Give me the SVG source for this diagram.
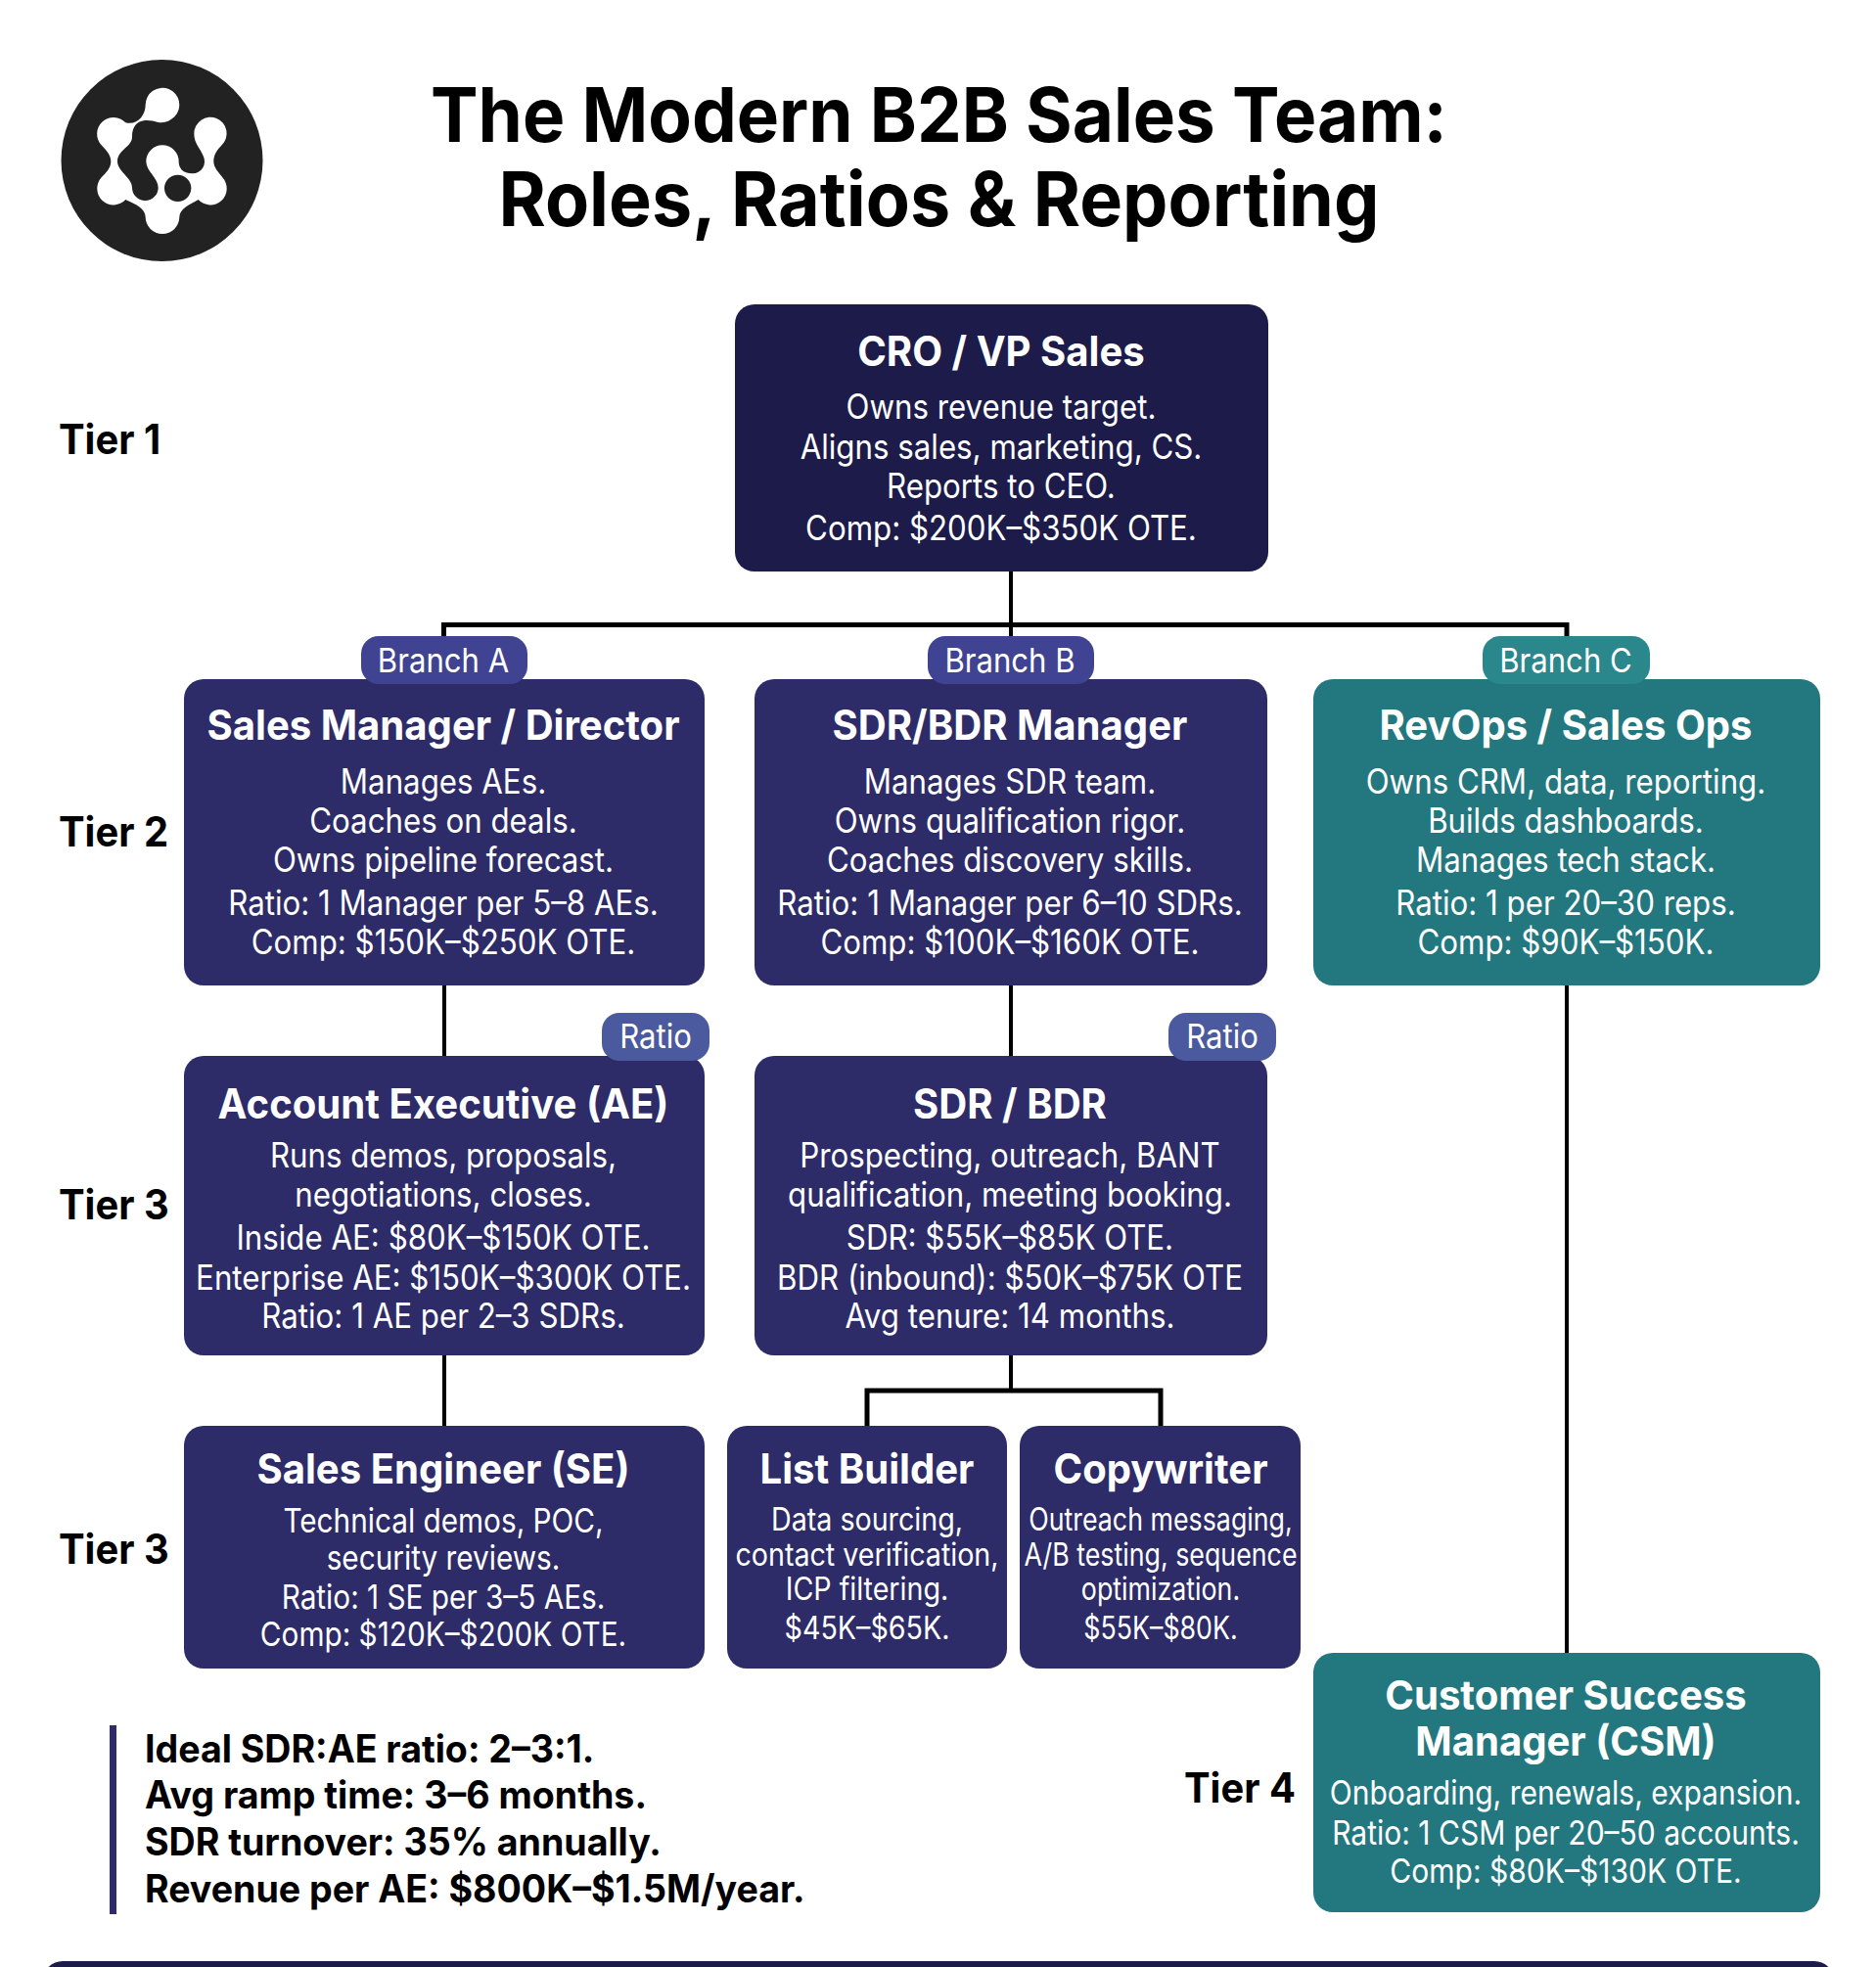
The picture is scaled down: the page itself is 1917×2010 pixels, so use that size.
<svg xmlns="http://www.w3.org/2000/svg" width="1917" height="2010" viewBox="0 0 1917 2010">
<style>
text{font-family:Inter,"Liberation Sans",sans-serif;text-anchor:middle;fill:#fff;transform-box:fill-box;transform-origin:center}
.title{font-size:77px;font-weight:700;fill:#000;transform:scaleX(.945)}
.t2{transform:scaleX(.957)}
.h{font-size:42px;font-weight:700;transform:scaleX(.955)}
.h2{font-size:41px;font-weight:700;transform:scaleX(.978)}
.b{font-size:35px;font-weight:400;transform:scaleX(.893)}
.e{font-size:34px;font-weight:400;transform:scaleX(.875)}
.c{font-size:34px;font-weight:400;transform:scaleX(.883)}
.s{font-size:32px;font-weight:400;transform:scaleX(.895)}
.w{font-size:32px;font-weight:400;transform:scaleX(.837)}
.tier{font-size:42px;font-weight:700;fill:#000;text-anchor:start;transform-origin:left center;transform:scaleX(.95)}
.stat{font-size:39px;font-weight:700;fill:#000;text-anchor:start;transform-origin:left center;transform:scaleX(.963)}
.badge{font-size:34px;font-weight:400;transform:scaleX(.915)}
.navy{fill:#2d2b68}.teal{fill:#237880}.top{fill:#1c1b4a}
.line{stroke:#000;stroke-width:4;fill:none}
.bus{stroke:#000;stroke-width:5;fill:none}
</style>
<rect width="1917" height="2010" fill="#fff"/>
<g id="logo">
<circle cx="165.500" cy="164" r="103" fill="#222"/>
<g transform="translate(40 40) scale(.3333)">
<path fill="#fff" d="M326,202 A52,52 0 1 1 415,238 C400,252 385,258 365,255 C345,250 325,245 305,255 C290,265 285,280 285,300 C285,330 240,340 240,375 C240,405 285,425 285,455 A40,40 0 0 0 365,455 C365,425 328,405 328,375 A50,50 0 0 1 428,375 C428,395 440,412 470,412 A37,37 0 0 0 503,358 C495,335 475,320 475,290 A50,50 0 1 1 560,325 C545,340 535,355 535,375 C535,395 552,410 562,424 A50,50 0 0 1 488,492 C465,505 430,520 430,545 A52,52 0 0 1 326,545 C326,520 295,505 265,492 A50,50 0 0 1 191,424 C205,410 220,395 220,375 C220,355 205,340 191,325 A50,50 0 0 1 265,256 C300,265 326,235 326,202 Z"/>
<circle cx="425" cy="457" r="41" fill="#222"/>
</g>
</g>
<g id="title">
<text class="title" x="959.500" y="145">The Modern B2B Sales Team:</text>
<text class="title t2" x="959.500" y="231">Roles, Ratios &amp; Reporting</text>
</g>
<g id="connectors">
<path class="line" d="M1033 584V694M454 1007V1079M1033 1007V1079M1601 1007V1689M454 1385V1458M1033 1385V1421"/>
<path class="bus" d="M453.500 650V638.500H1601V650"/>
<path class="bus" d="M886 1458V1421H1186V1458"/>
</g>
<g id="tiers">
<text class="tier" x="60" y="464">Tier 1</text>
<text class="tier" x="60" y="865">Tier 2</text>
<text class="tier" x="60" y="1246">Tier 3</text>
<text class="tier" x="60" y="1598">Tier 3</text>
<text class="tier" x="1210" y="1842">Tier 4</text>
</g>
<g id="cro">
<rect class="top" x="751" y="311" width="545" height="273" rx="20"/>
<text class="h" x="1023" y="374">CRO / VP Sales</text>
<text class="b" x="1023" y="428">Owns revenue target.</text>
<text class="b" x="1023" y="469">Aligns sales, marketing, CS.</text>
<text class="b" x="1023" y="509">Reports to CEO.</text>
<text class="b" x="1023" y="552">Comp: $200K–$350K OTE.</text>
</g>
<g id="sales-manager">
<rect class="navy" x="188" y="694" width="532" height="313" rx="20"/>
<text class="h" x="453" y="756">Sales Manager / Director</text>
<text class="b" x="453" y="811">Manages AEs.</text>
<text class="b" x="453" y="851">Coaches on deals.</text>
<text class="b" x="453" y="891">Owns pipeline forecast.</text>
<text class="b" x="453" y="935">Ratio: 1 Manager per 5–8 AEs.</text>
<text class="b" x="453" y="975">Comp: $150K–$250K OTE.</text>
</g>
<g id="sdr-manager">
<rect class="navy" x="771" y="694" width="524" height="313" rx="20"/>
<text class="h" x="1032" y="756">SDR/BDR Manager</text>
<text class="b" x="1032" y="811">Manages SDR team.</text>
<text class="b" x="1032" y="851">Owns qualification rigor.</text>
<text class="b" x="1032" y="891">Coaches discovery skills.</text>
<text class="b" x="1032" y="935">Ratio: 1 Manager per 6–10 SDRs.</text>
<text class="b" x="1032" y="975">Comp: $100K–$160K OTE.</text>
</g>
<g id="revops">
<rect class="teal" x="1342" y="694" width="518" height="313" rx="20"/>
<text class="h" x="1600" y="756">RevOps / Sales Ops</text>
<text class="b" x="1600" y="811">Owns CRM, data, reporting.</text>
<text class="b" x="1600" y="851">Builds dashboards.</text>
<text class="b" x="1600" y="891">Manages tech stack.</text>
<text class="b" x="1600" y="935">Ratio: 1 per 20–30 reps.</text>
<text class="b" x="1600" y="975">Comp: $90K–$150K.</text>
</g>
<g id="ae">
<rect class="navy" x="188" y="1079" width="532" height="306" rx="20"/>
<text class="h" x="453" y="1143">Account Executive (AE)</text>
<text class="b" x="453" y="1193">Runs demos, proposals,</text>
<text class="b" x="453" y="1233">negotiations, closes.</text>
<text class="b" x="453" y="1277">Inside AE: $80K–$150K OTE.</text>
<text class="b" x="453" y="1318">Enterprise AE: $150K–$300K OTE.</text>
<text class="b" x="453" y="1357">Ratio: 1 AE per 2–3 SDRs.</text>
</g>
<g id="sdr">
<rect class="navy" x="771" y="1079" width="524" height="306" rx="20"/>
<text class="h" x="1032" y="1143">SDR / BDR</text>
<text class="b" x="1032" y="1193">Prospecting, outreach, BANT</text>
<text class="b" x="1032" y="1233">qualification, meeting booking.</text>
<text class="b" x="1032" y="1277">SDR: $55K–$85K OTE.</text>
<text class="b" x="1032" y="1318">BDR (inbound): $50K–$75K OTE</text>
<text class="b" x="1032" y="1357">Avg tenure: 14 months.</text>
</g>
<g id="se">
<rect class="navy" x="188" y="1457" width="532" height="248" rx="20"/>
<text class="h" x="453" y="1516">Sales Engineer (SE)</text>
<text class="e" x="453" y="1566">Technical demos, POC,</text>
<text class="e" x="453" y="1604">security reviews.</text>
<text class="e" x="453" y="1644">Ratio: 1 SE per 3–5 AEs.</text>
<text class="e" x="453" y="1682">Comp: $120K–$200K OTE.</text>
</g>
<g id="list-builder">
<rect class="navy" x="743" y="1457" width="286" height="248" rx="20"/>
<text class="h" x="886" y="1516">List Builder</text>
<text class="s" x="886" y="1564">Data sourcing,</text>
<text class="s" x="886" y="1600">contact verification,</text>
<text class="s" x="886" y="1635">ICP filtering.</text>
<text class="s" x="886" y="1675">$45K–$65K.</text>
</g>
<g id="copywriter">
<rect class="navy" x="1042" y="1457" width="287" height="248" rx="20"/>
<text class="h" x="1186" y="1516">Copywriter</text>
<text class="w" x="1186" y="1564">Outreach messaging,</text>
<text class="w" x="1186" y="1600">A/B testing, sequence</text>
<text class="w" x="1186" y="1635">optimization.</text>
<text class="w" x="1186" y="1675">$55K–$80K.</text>
</g>
<g id="csm">
<rect class="teal" x="1342" y="1689" width="518" height="265" rx="20"/>
<text class="h2" x="1600" y="1747">Customer Success</text>
<text class="h2" x="1600" y="1794">Manager (CSM)</text>
<text class="c" x="1600" y="1844">Onboarding, renewals, expansion.</text>
<text class="c" x="1600" y="1885">Ratio: 1 CSM per 20–50 accounts.</text>
<text class="c" x="1600" y="1924">Comp: $80K–$130K OTE.</text>
</g>
<g id="badges">
<rect x="369" y="650" width="170" height="49" rx="18" fill="#3f4391"/><text class="badge" x="453" y="687">Branch A</text>
<rect x="948" y="650" width="170" height="49" rx="18" fill="#3f4391"/><text class="badge" x="1032" y="687">Branch B</text>
<rect x="1515" y="650" width="171" height="49" rx="18" fill="#2a878c"/><text class="badge" x="1600" y="687">Branch C</text>
<rect x="615" y="1035" width="110" height="49" rx="18" fill="#4b5a9e"/><text class="badge" x="670" y="1071">Ratio</text>
<rect x="1194" y="1035" width="110" height="49" rx="18" fill="#4b5a9e"/><text class="badge" x="1249" y="1071">Ratio</text>
</g>
<g id="stats">
<rect x="112" y="1763" width="7" height="193" fill="#2d2b68"/>
<text class="stat" x="148" y="1801">Ideal SDR:AE ratio: 2–3:1.</text>
<text class="stat" x="148" y="1848">Avg ramp time: 3–6 months.</text>
<text class="stat" x="148" y="1896">SDR turnover: 35% annually.</text>
<text class="stat" x="148" y="1944">Revenue per AE: $800K–$1.5M/year.</text>
</g>
<path id="footer-bar" d="M44 2010V2024A20 20 0 0 1 64 2004H1854A20 20 0 0 1 1874 2024V2010Z" fill="#1c1b4a"/>
</svg>
